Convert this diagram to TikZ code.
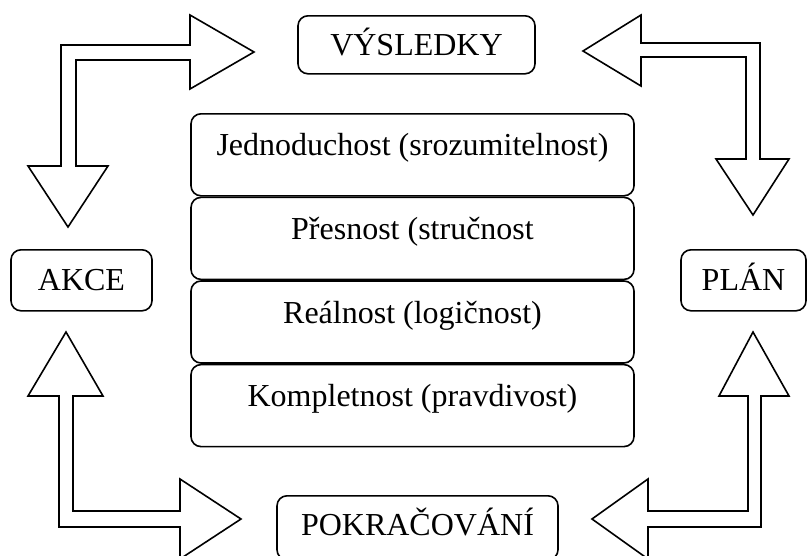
\documentclass[tikz,border=0pt]{standalone}
\usepackage{fontspec}
\setmainfont{Liberation Serif}
\begin{document}
\begin{tikzpicture}[x=1pt,y=-1pt,
  every node/.style={font=\fontsize{32}{34}\selectfont},
  box/.style={draw=black,line width=1.6pt,rounded corners=10pt,inner sep=0pt,fill=white,align=center},
  bigarrow/.style={draw=black,line width=1.6pt,fill=white,line join=miter}]
\useasboundingbox (0,0) rectangle (808,555);
% central stack
\node[box,anchor=north,minimum width=443pt,text height=42pt,text depth=40pt] (b1) at (412.5,113) {Jednoduchost (srozumitelnost)};
\node[box,anchor=north,minimum width=443pt,text height=42pt,text depth=40pt] (b2) at (b1.south) {Přesnost (stručnost};
\node[box,anchor=north,minimum width=443pt,text height=42pt,text depth=40pt] (b3) at (b2.south) {Reálnost (logičnost)};
\node[box,anchor=north,minimum width=443pt,text height=42pt,text depth=40pt] (b4) at (b3.south) {Kompletnost (pravdivost)};
% outer boxes
\node[box,anchor=north,minimum width=237pt,text height=40pt,text depth=18pt] (vys) at (416.5,15) {VÝSLEDKY};
\node[box,anchor=north,minimum width=281pt,text height=40pt,text depth=24pt] (pok) at (417.5,495) {POKRAČOVÁNÍ};
\node[box,anchor=north,minimum width=141pt,text height=41pt,text depth=20pt] (akce) at (81.5,249) {AKCE};
\node[box,anchor=north,minimum width=125pt,text height=41pt,text depth=20pt] (plan) at (743.5,249) {PLÁN};
% block arrows
\draw[bigarrow] (254,52) -- (190,15) -- (190,45) -- (61,45) -- (61,166) -- (28,166) -- (68,227) -- (108,166) -- (76,166) -- (76,60) -- (190,60) -- (190,89) -- cycle;
\draw[bigarrow] (583,51) -- (641,15) -- (641,43) -- (760,43) -- (760,159) -- (789,159) -- (753,215) -- (716,159) -- (746,159) -- (746,57) -- (641,57) -- (641,86) -- cycle;
\draw[bigarrow] (66,332) -- (103,396) -- (73,396) -- (73,511) -- (180,511) -- (180,479) -- (241,519) -- (180,559) -- (180,527) -- (59,527) -- (59,396) -- (28,396) -- cycle;
\draw[bigarrow] (753,332) -- (789,396) -- (761,396) -- (761,527) -- (648,527) -- (648,559) -- (592,519) -- (648,479) -- (648,511) -- (748,511) -- (748,396) -- (719,396) -- cycle;
\end{tikzpicture}
\end{document}
